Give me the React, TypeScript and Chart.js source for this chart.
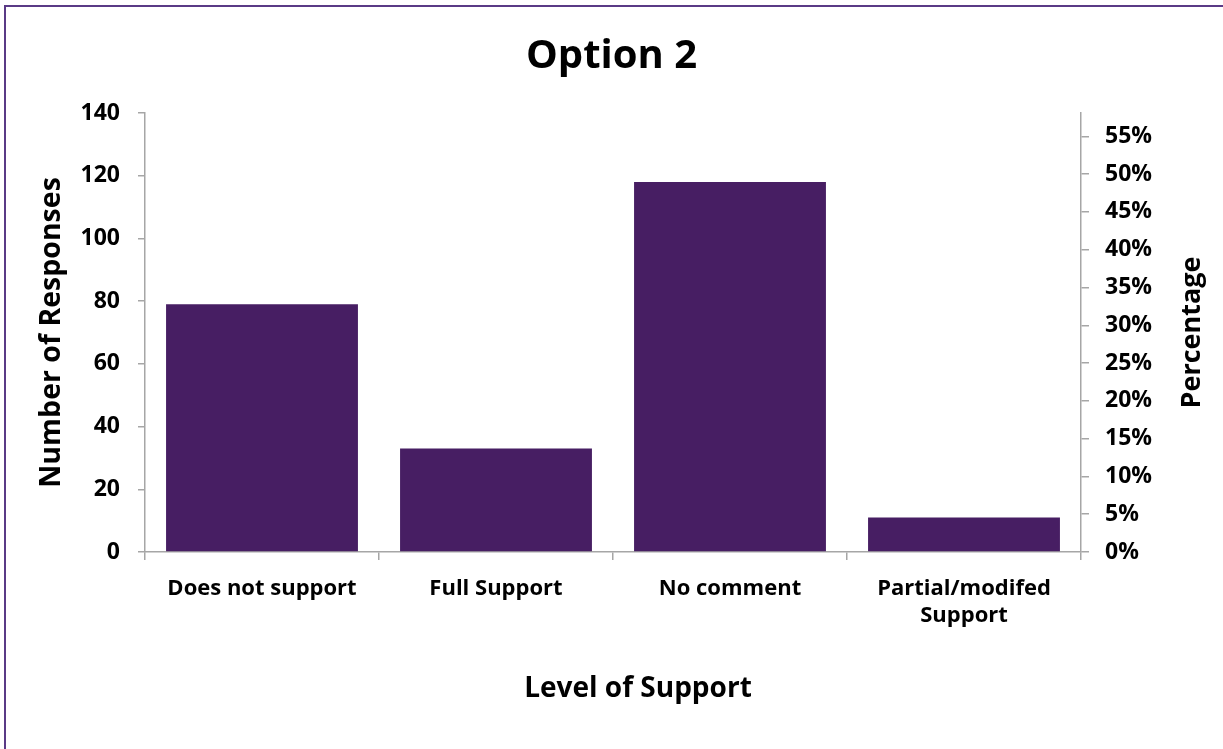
import React, { useEffect, useRef } from "react";
import { Chart, registerables } from "chart.js";

Chart.register(...registerables);

const categories: (string | string[])[] = ["Does not support", "Full Support", "No comment", ["Partial/modifed", "Support"]];
const responses = [79, 33, 118, 11];
const leftMax = 140;
const leftStep = 20;
const percentStep = 0.05;

const FONT = "'Open Sans', sans-serif";
const AXIS = "#A6A6A6";

// Draws the x-axis title (placed a little right of centre, as in the source)
// and the right-hand axis title reading bottom-to-top.
const axisTitlePlugin = {
  id: "axisTitles",
  afterDraw(chart: any) {
    const ctx = chart.ctx;
    const area = chart.chartArea;
    const sx = chart.scales.x;
    const sr = chart.scales.y1;
    ctx.save();
    ctx.fillStyle = "#000";
    ctx.textAlign = "center";
    ctx.textBaseline = "middle";
    ctx.font = `bold 28px ${FONT}`;
    ctx.fillText(sx.options.title.text, (area.left + area.right) / 2 + 25, sx.bottom - 60);
    ctx.translate(sr.right - 31, (sr.top + sr.bottom) / 2);
    ctx.rotate(-Math.PI / 2);
    ctx.font = `bold 27px ${FONT}`;
    ctx.fillText(sr.options.title.text, 0, 0);
    ctx.restore();
  },
};

export default function App() {
  const ref = useRef<HTMLCanvasElement>(null);
  useEffect(() => {
    const total = responses.reduce((a, b) => a + b, 0);
    const chart = new Chart(ref.current!, {
      type: "bar",
      data: {
        labels: categories,
        datasets: [
          {
            label: "Responses",
            data: responses,
            backgroundColor: "#471E63",
            borderWidth: 0,
            barPercentage: 0.82,
            categoryPercentage: 1,
            yAxisID: "y",
          },
        ],
      },
      plugins: [axisTitlePlugin],
      options: {
        animation: false,
        responsive: false,
        maintainAspectRatio: false,
        layout: { padding: 0 },
        plugins: {
          legend: { display: false },
          tooltip: { enabled: false },
          title: {
            display: true,
            text: "Option 2",
            color: "#000",
            font: { family: FONT, size: 40, weight: "bold", lineHeight: 1.2 },
            padding: { top: 33, bottom: 32 },
          },
        },
        scales: {
          x: {
            offset: true,
            grid: { offset: true, drawOnChartArea: false, drawTicks: true, tickLength: 8, color: AXIS, lineWidth: 1.5 },
            border: { display: true, color: AXIS, width: 1.5 },
            ticks: { color: "#000", padding: 15, maxRotation: 0, autoSkip: false, font: { family: FONT, size: 22, weight: "bold", lineHeight: 1.22 } },
            title: { display: false, text: "Level of Support" },
            afterFit: (s: any) => { s.height = 197; },
          },
          y: {
            position: "left",
            min: 0,
            max: leftMax,
            ticks: { stepSize: leftStep, color: "#000", padding: 18, font: { family: FONT, size: 23, weight: "bold" } },
            grid: { drawOnChartArea: false, drawTicks: true, tickLength: 7, color: AXIS, lineWidth: 1.5 },
            border: { display: true, color: AXIS, width: 1.5 },
            title: { display: true, text: "Number of Responses", color: "#000", font: { family: FONT, size: 28.5, weight: "bold", lineHeight: 1.2 }, padding: { top: 35, bottom: 0 } },
            afterFit: (s: any) => { s.width = 145; },
          },
          y1: {
            position: "right",
            type: "linear",
            min: 0,
            max: leftMax / total,
            ticks: {
              stepSize: percentStep,
              includeBounds: false,
              color: "#000",
              padding: 16,
              font: { family: FONT, size: 23, weight: "bold" },
              callback: (v: any) => Math.round(Number(v) * 100) + "%",
            },
            grid: { drawOnChartArea: false, drawTicks: true, tickLength: 8, color: AXIS, lineWidth: 1.5 },
            border: { display: true, color: AXIS, width: 1.5 },
            title: { display: false, text: "Percentage" },
            afterFit: (s: any) => { s.width = 142; },
          },
        },
      } as any,
    });
    return () => chart.destroy();
  }, []);

  return (
    <div style={{ position: "fixed", left: 0, top: 0, width: 1223, height: 749, overflow: "hidden", background: "#fff" }}>
      <div
        style={{
          position: "absolute",
          left: 4,
          top: 5,
          width: 1400,
          height: 900,
          borderLeft: "2px solid #5A3A86",
          borderTop: "2px solid #5A3A86",
          boxSizing: "border-box",
        }}
      />
      <canvas ref={ref} width={1223} height={749} style={{ position: "absolute", left: 0, top: 0, width: 1223, height: 749 }} />
    </div>
  );
}
